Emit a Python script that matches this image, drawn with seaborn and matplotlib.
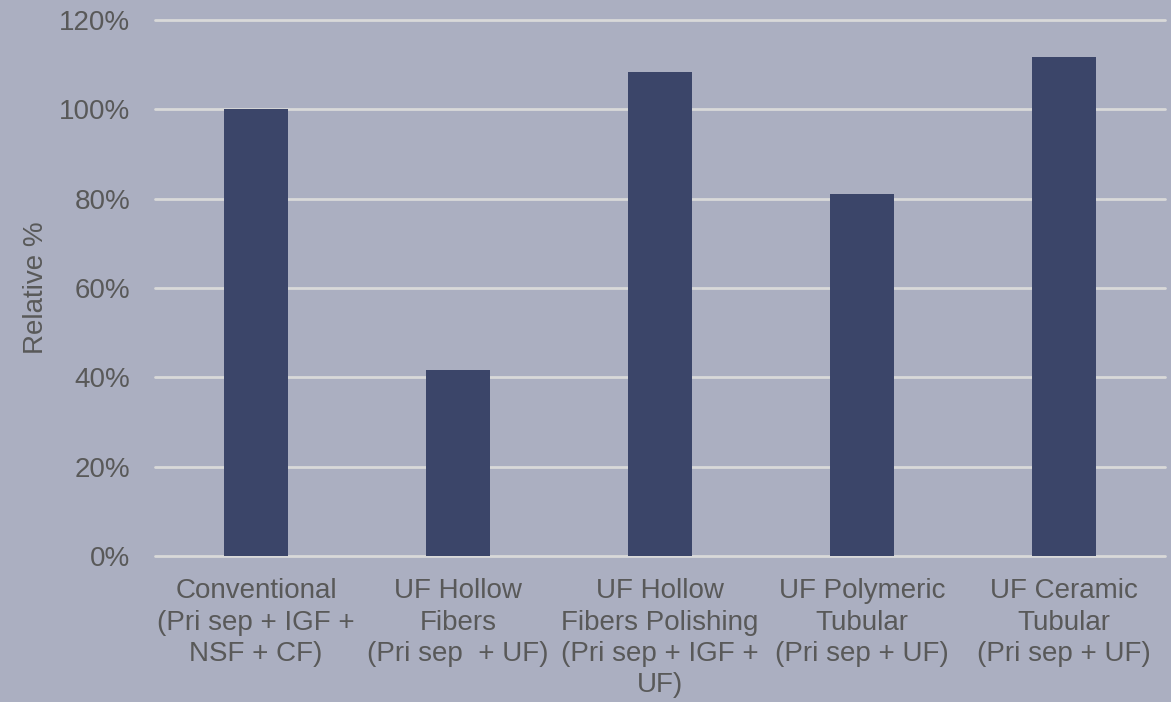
import matplotlib
matplotlib.use("Agg")
import matplotlib.pyplot as plt
import seaborn as sns
import pandas as pd
from matplotlib.ticker import PercentFormatter

categories = [
    "Conventional\n(Pri sep + IGF +\nNSF + CF)",
    "UF Hollow\nFibers\n(Pri sep  + UF)",
    "UF Hollow\nFibers Polishing\n(Pri sep + IGF +\nUF)",
    "UF Polymeric\nTubular\n(Pri sep + UF)",
    "UF Ceramic\nTubular\n(Pri sep + UF)",
]
relative_pct = [100.0, 41.7, 108.4, 81.0, 111.7]
y_ticks = [0, 20, 40, 60, 80, 100, 120]

BG = "#ABAFC1"
BAR = "#3B4569"
GRID = "#D9D9D9"
TEXT = "#595959"

sns.set_theme(style="white")
plt.rcParams["font.family"] = ["Liberation Sans", "DejaVu Sans"]

df = pd.DataFrame({"category": categories, "value": relative_pct})

fig = plt.figure(figsize=(11.71, 7.02), dpi=100, facecolor=BG)
ax = fig.add_axes([0.1324, 0.208, 0.8625, 0.7635])
ax.set_facecolor(BG)

sns.barplot(data=df, x="category", y="value", color=BAR, saturation=1,
            width=0.317, ax=ax, zorder=3, edgecolor=BAR, linewidth=0)

ax.set_xlim(-0.5, len(categories) - 0.5)
ax.set_ylim(0, 120)
ax.set_yticks(y_ticks)
ax.yaxis.set_major_formatter(PercentFormatter(decimals=0))

ax.set_axisbelow(True)
ax.grid(axis="y", color=GRID, linewidth=2)
ax.grid(axis="x", visible=False)
for gl in ax.get_ygridlines():
    gl.set_clip_on(False)
for s in ax.spines.values():
    s.set_visible(False)

ax.tick_params(axis="both", length=0, labelsize=20, labelcolor=TEXT)
ax.tick_params(axis="x", pad=16)
ax.tick_params(axis="y", pad=18)
for lbl in ax.get_xticklabels():
    lbl.set_linespacing(1.27)
    lbl.set_multialignment("center")

ax.set_xlabel("")
ax.set_ylabel("Relative %", fontsize=20, color=TEXT, labelpad=7)

fig.savefig("out.png", dpi=100, facecolor=BG)
